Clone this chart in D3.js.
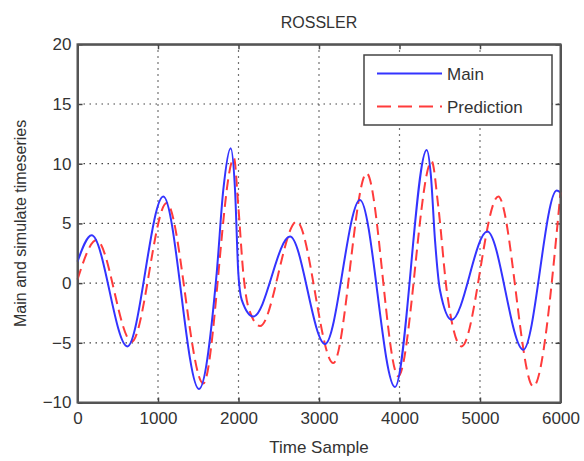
<!doctype html>
<html>
  <head>
    <meta charset="utf-8">
    <title>ROSSLER</title>
    <script src="https://cdnjs.cloudflare.com/ajax/libs/d3/7.8.5/d3.min.js"></script>
    <style>
      body { margin: 0; background: #fff; }
      text { font-family: "Liberation Sans", Arial, sans-serif; fill: #333; }
    </style>
  </head>
  <body>
    <div id="chart"></div>
    <script>
      // values (time sample, value)
      const mainX = [0, 176, 619, 1066, 1509, 1729, 1811, 1903, 1957, 1998, 2040, 2184, 2640, 3075, 3509, 3944, 4338, 4390, 4441, 4503, 4648, 5091, 5538, 5953, 6000];
      const mainY = [1.8, 4.0, -5.3, 7.25, -8.87, 0.84, 7.8, 11.3, 7.8, 0.8, -1.4, -2.8, 3.9, -5.1, 6.97, -8.7, 11.15, 9.0, 3.6, -0.6, -3.07, 4.32, -5.58, 7.75, 7.6];
      const predX = [0, 238, 673, 1108, 1563, 1944, 1998, 2060, 2122, 2267, 2723, 3178, 3592, 3985, 4400, 4482, 4586, 4772, 5227, 5662, 6000];
      const predY = [0.3, 3.6, -4.9, 6.7, -8.4, 10.46, 6.4, 0.8, -2.0, -3.6, 5.15, -6.7, 9.2, -7.8, 10.2, 6.4, -0.56, -5.3, 7.25, -8.65, 7.6];

      const xTicks = [0, 1000, 2000, 3000, 4000, 5000, 6000];
      const yTicks = [-10, -5, 0, 5, 10, 15, 20];

      const width = 584, height = 461;
      const mLeft = 77.5, mRight = 560.5, mTop = 44.3, mBottom = 402.5;

      const svg = d3.select('#chart').append('svg')
        .attr('width', width)
        .attr('height', height);

      const x = d3.scaleLinear().domain([0, 6000]).range([mLeft, mRight]);
      const y = d3.scaleLinear().domain([-10, 20]).range([mBottom, mTop]);

      // dotted grid
      svg.append('g').selectAll('line').data(xTicks.slice(1, -1)).join('line')
        .attr('x1', d => x(d)).attr('x2', d => x(d))
        .attr('y1', mTop).attr('y2', mBottom)
        .attr('stroke', '#444').attr('stroke-width', 1.2)
        .attr('stroke-dasharray', '1.5,4.5');
      svg.append('g').selectAll('line').data(yTicks.slice(1, -1)).join('line')
        .attr('x1', mLeft).attr('x2', mRight)
        .attr('y1', d => y(d)).attr('y2', d => y(d))
        .attr('stroke', '#444').attr('stroke-width', 1.2)
        .attr('stroke-dasharray', '1.5,4.5');

      // axes, ticks inside, MATLAB style box
      svg.append('g').attr('transform', `translate(0,${mBottom})`)
        .call(d3.axisBottom(x).tickValues(xTicks).tickFormat(d3.format('d'))
          .tickSizeInner(-5).tickSizeOuter(0).tickPadding(9));
      svg.append('g').attr('transform', `translate(${mLeft},0)`)
        .call(d3.axisLeft(y).tickValues(yTicks).tickFormat(d3.format('d'))
          .tickSizeInner(-5).tickSizeOuter(0).tickPadding(6));
      svg.append('g').attr('transform', `translate(0,${mTop})`)
        .call(d3.axisTop(x).tickValues(xTicks).tickSizeInner(-5).tickSizeOuter(0).tickFormat(''));
      svg.append('g').attr('transform', `translate(${mRight},0)`)
        .call(d3.axisRight(y).tickValues(yTicks).tickSizeInner(-5).tickSizeOuter(0).tickFormat(''));

      svg.selectAll('.domain').attr('stroke', '#555').attr('stroke-width', 2);
      svg.selectAll('.tick line').attr('stroke', '#444').attr('stroke-width', 1.5);
      svg.selectAll('.tick text').style('font-size', '17px').attr('fill', '#333');

      // series
      const mainData = mainX.map((d, i) => [d, mainY[i]]);
      const predData = predX.map((d, i) => [d, predY[i]]);
      const line = d3.line().x(d => x(d[0])).y(d => y(d[1])).curve(d3.curveMonotoneX);

      svg.append('path').datum(predData)
        .attr('d', line)
        .attr('fill', 'none')
        .attr('stroke', '#ff3b3b')
        .attr('stroke-width', 2)
        .attr('stroke-dasharray', '11,6');
      svg.append('path').datum(mainData)
        .attr('d', line)
        .attr('fill', 'none')
        .attr('stroke', '#3333ff')
        .attr('stroke-width', 2);

      // redraw box on top
      svg.append('rect')
        .attr('x', mLeft).attr('y', mTop)
        .attr('width', mRight - mLeft).attr('height', mBottom - mTop)
        .attr('fill', 'none').attr('stroke', '#555').attr('stroke-width', 2);

      // labels
      svg.append('text').attr('x', (mLeft + mRight) / 2).attr('y', 28)
        .attr('text-anchor', 'middle').style('font-size', '16px').text('ROSSLER');
      svg.append('text').attr('x', (mLeft + mRight) / 2).attr('y', 453)
        .attr('text-anchor', 'middle').style('font-size', '17px').text('Time Sample');
      svg.append('text')
        .attr('transform', `translate(26,${(mTop + mBottom) / 2}) rotate(-90)`)
        .attr('text-anchor', 'middle').style('font-size', '16px')
        .text('Main and simulate timeseries');

      // legend
      const legend = svg.append('g');
      legend.append('rect')
        .attr('x', 364).attr('y', 55).attr('width', 188).attr('height', 70)
        .attr('fill', '#fff').attr('stroke', '#444').attr('stroke-width', 1.5);
      const items = [
        { name: 'Main', color: '#3333ff', dash: null, yy: 73.5 },
        { name: 'Prediction', color: '#ff3b3b', dash: '14,7', yy: 106.5 }
      ];
      items.forEach(it => {
        legend.append('line')
          .attr('x1', 377).attr('x2', 442).attr('y1', it.yy).attr('y2', it.yy)
          .attr('stroke', it.color).attr('stroke-width', 2)
          .attr('stroke-dasharray', it.dash);
        legend.append('text').attr('x', 447).attr('y', it.yy + 6)
          .style('font-size', '17px').text(it.name);
      });
    </script>
  </body>
</html>
